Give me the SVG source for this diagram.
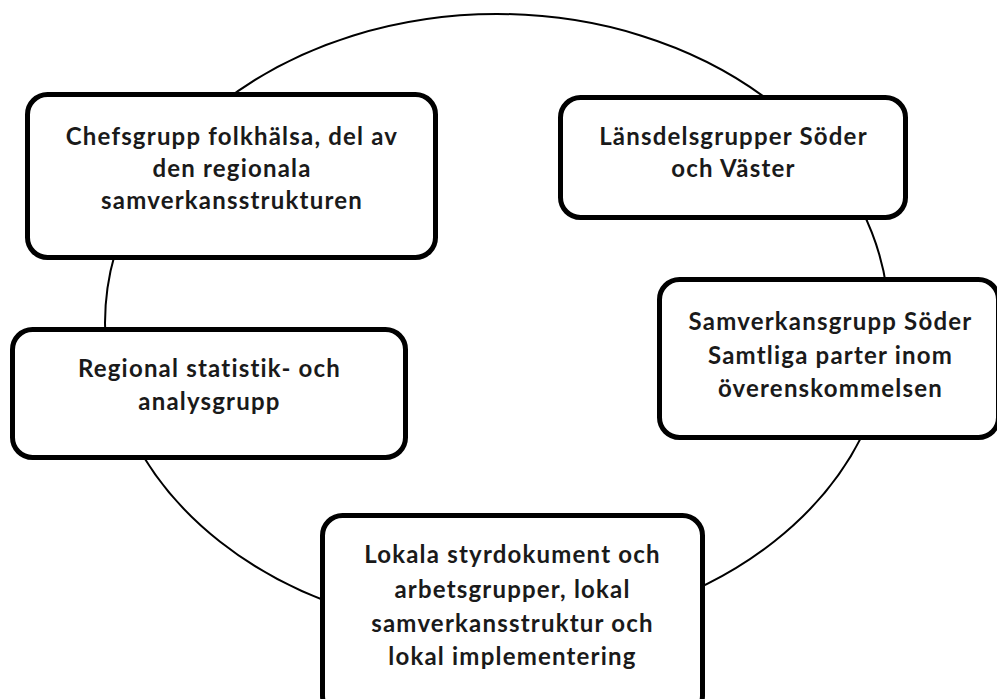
<svg xmlns="http://www.w3.org/2000/svg" width="997" height="699" viewBox="0 0 997 699">
<style>
.box{fill:#fff;stroke:#000;stroke-width:5}
.ring{fill:none;stroke:#000;stroke-width:2}
.t{font-family:Lato,"Open Sans","DejaVu Sans",sans-serif;font-weight:bold;font-size:24px;letter-spacing:1.2px;fill:#1a1a1a;text-anchor:middle}
</style>
<rect width="997" height="699" fill="#fff"/>
<g id="connectors">
<ellipse class="ring" cx="497" cy="323" rx="392" ry="309"/>
</g>
<g id="node-chefsgrupp">
<rect class="box" x="27.5" y="94.5" width="408" height="163" rx="20"/>
<text class="t" x="232" y="145">Chefsgrupp folkhälsa, del av</text>
<text class="t" x="232" y="177">den regionala</text>
<text class="t" x="232" y="209">samverkansstrukturen</text>
</g>
<g id="node-lansdel">
<rect class="box" x="560.5" y="97.5" width="345" height="120" rx="20"/>
<text class="t" x="733.5" y="145">Länsdelsgrupper Söder</text>
<text class="t" x="733.5" y="177">och Väster</text>
</g>
<g id="node-regional">
<rect class="box" x="12.5" y="329.5" width="393" height="128" rx="20"/>
<text class="t" x="209.5" y="377">Regional statistik- och</text>
<text class="t" x="209.5" y="410">analysgrupp</text>
</g>
<g id="node-samverkansgrupp">
<rect class="box" x="659.5" y="279.5" width="339" height="158" rx="20"/>
<text class="t" x="830.5" y="330">Samverkansgrupp Söder</text>
<text class="t" x="830.5" y="364">Samtliga parter inom</text>
<text class="t" x="830.5" y="397">överenskommelsen</text>
</g>
<g id="node-lokala">
<rect class="box" x="322.5" y="515.5" width="380" height="200" rx="20"/>
<text class="t" x="512.5" y="563">Lokala styrdokument och</text>
<text class="t" x="512.5" y="598">arbetsgrupper, lokal</text>
<text class="t" x="512.5" y="632">samverkansstruktur och</text>
<text class="t" x="512.5" y="665">lokal implementering</text>
</g>
</svg>
